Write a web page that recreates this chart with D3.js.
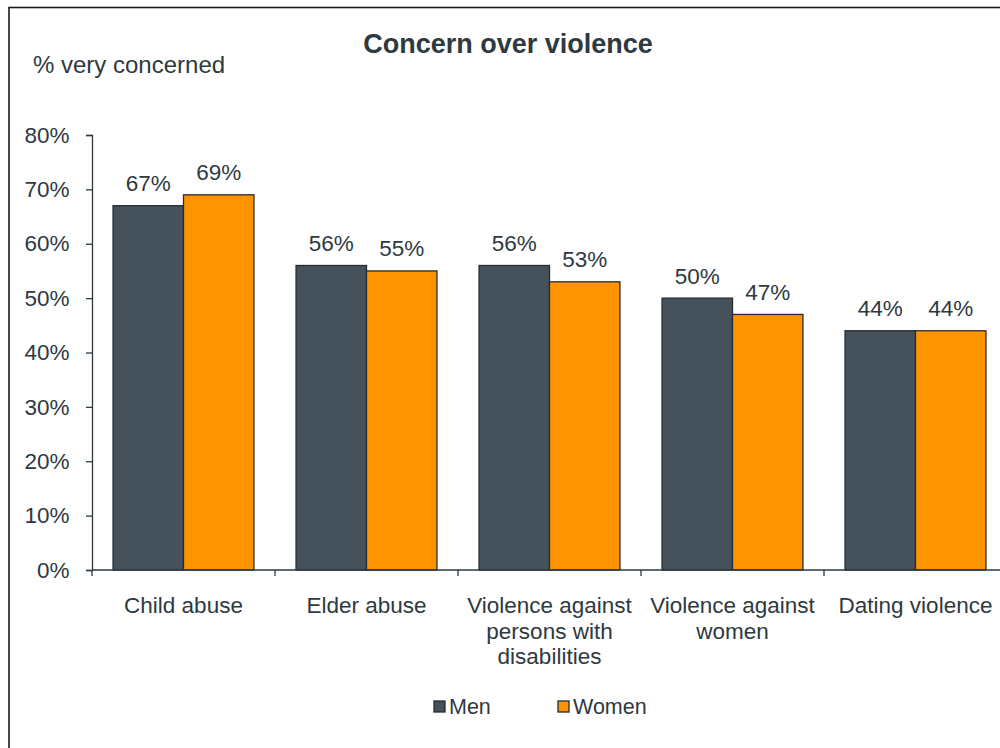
<!DOCTYPE html>
<html><head><meta charset="utf-8">
<script src="https://cdn.jsdelivr.net/npm/d3@7"></script>
<style>body{margin:0;background:#fff}svg{display:block}text{font-family:"Liberation Sans",Arial,sans-serif;fill:#2e3940}</style>
</head><body>
<svg id="c" width="1000" height="748"></svg>
<script>
const categories = [["Child abuse"], ["Elder abuse"], ["Violence against", "persons with", "disabilities"], ["Violence against", "women"], ["Dating violence"]];
const seriesNames = ["Men", "Women"];
const men = [67, 56, 56, 50, 44];
const women = [69, 55, 53, 47, 44];
const yTicks = [0, 10, 20, 30, 40, 50, 60, 70, 80];
const colors = ["#45525c", "#ff9400"];

const svg = d3.select("#c");
// frame
svg.append("rect").attr("x", 9).attr("y", 7.5).attr("width", 1100).attr("height", 900)
  .attr("fill", "none").attr("stroke", "#1a1a1a").attr("stroke-width", 1.6);

const idx = categories.map((d, i) => i);
const x = d3.scaleBand().domain(idx).range([92, 1007]).paddingInner(0.23).paddingOuter(0.115);
const x0 = d3.scaleBand().domain(idx).range([92, 1007]);
const y = d3.scaleLinear().domain([0, 80]).range([570, 135]);
const xs = d3.scaleBand().domain([0, 1]).range([0, x.bandwidth()]);

svg.append("text").attr("x", 508).attr("y", 53).attr("text-anchor", "middle")
  .style("font-weight", "bold").style("font-size", "27px").text("Concern over violence");
svg.append("text").attr("x", 33).attr("y", 73).style("font-size", "24px").text("% very concerned");

// y axis
const ya = svg.append("g").attr("transform", "translate(92,0)")
  .call(d3.axisLeft(y).tickValues(yTicks).tickFormat(d => d + "%").tickSize(6).tickPadding(16.5));
ya.select(".domain").attr("stroke", "#2e3940").attr("stroke-width", 1.3);
ya.selectAll(".tick line").attr("stroke", "#2e3940").attr("stroke-width", 1.3);
ya.selectAll(".tick text").style("font-size", "22.5px").style("font-family", "Liberation Sans, Arial, sans-serif").attr("fill", "#2e3940");

// bars
const data = [men, women];
data.forEach((vals, s) => {
  svg.append("g").selectAll("rect").data(vals).enter().append("rect")
    .attr("x", (d, i) => x(i) + xs(s))
    .attr("y", d => y(d))
    .attr("width", xs.bandwidth())
    .attr("height", d => y(0) - y(d))
    .attr("fill", colors[s]).attr("stroke", "#232c33").attr("stroke-width", 1.3);
  svg.append("g").selectAll("text").data(vals).enter().append("text")
    .attr("x", (d, i) => x(i) + xs(s) + xs.bandwidth() / 2)
    .attr("y", d => y(d) - 14.5)
    .attr("text-anchor", "middle").style("font-size", "22.5px").text(d => d + "%");
});

// x axis
const xa = svg.append("g").attr("transform", "translate(0,570)");
xa.append("line").attr("x1", 92).attr("x2", 1007).attr("y1", 0).attr("y2", 0)
  .attr("stroke", "#2e3940").attr("stroke-width", 1.3);
xa.selectAll("line.t").data(idx).enter().append("line").attr("class", "t")
  .attr("x1", d => x0(d)).attr("x2", d => x0(d)).attr("y1", 0).attr("y2", 6)
  .attr("stroke", "#2e3940").attr("stroke-width", 1.3);
const lab = svg.append("g").selectAll("text").data(categories).enter().append("text")
  .attr("text-anchor", "middle").style("font-size", "22.5px");
lab.each(function (lines, i) {
  const t = d3.select(this);
  lines.forEach((l, k) => {
    t.append("tspan").attr("x", x0(i) + x0.bandwidth() / 2).attr("y", 613 + k * 25.5).text(l);
  });
});

// legend
const legX = [434, 558];
seriesNames.forEach((n, s) => {
  svg.append("rect").attr("x", legX[s]).attr("y", 701).attr("width", 11).attr("height", 11)
    .attr("fill", colors[s]).attr("stroke", "#232c33").attr("stroke-width", 1.3);
  svg.append("text").attr("x", legX[s] + 15).attr("y", 714).style("font-size", "21.5px").text(n);
});
</script>
</body></html>
